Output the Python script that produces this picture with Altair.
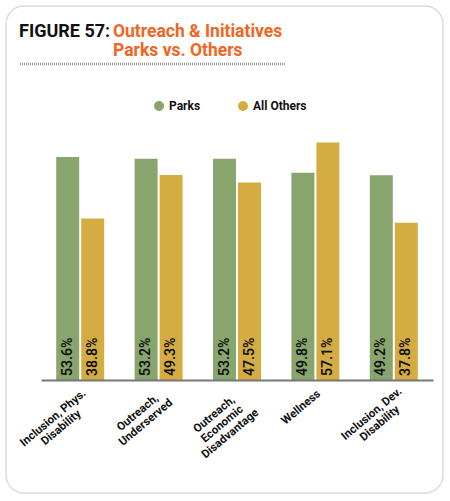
import altair as alt
import pandas as pd

# Program categories and shares in percent
categories = [
    "Inclusion, Phys. Disability",
    "Outreach, Underserved",
    "Outreach, Economic Disadvantage",
    "Wellness",
    "Inclusion, Dev. Disability",
]
# Wrapped tick labels for each category
tick_lines = [
    ["Inclusion, Phys.", "Disability"],
    ["Outreach,", "Underserved"],
    ["Outreach,", "Economic", "Disadvantage"],
    ["Wellness"],
    ["Inclusion, Dev.", "Disability"],
]
parks = [53.6, 53.2, 53.2, 49.8, 49.2]
all_others = [38.8, 49.3, 47.5, 57.1, 37.8]
groups = ["Parks", "All Others"]
colors = ["#87A56D", "#D4AC42"]

rows = []
for c, p, o in zip(categories, parks, all_others):
    rows.append({"category": c, "group": "Parks", "value": p})
    rows.append({"category": c, "group": "All Others", "value": o})
df = pd.DataFrame(rows)
df["label"] = df["value"].map(lambda v: f"{v:.1f}%")
cat_df = pd.DataFrame({"category": categories})

W, H = 392, 260
one = pd.DataFrame({"k": [0]})
TICK_FONT = 11.5
# approximate widths of the longest wrapped line, used to end each block at its tick
longest_px = [80, 64, 69, 47, 67]

# Rounded card behind everything
card = alt.Chart(one).mark_rect(
    cornerRadius=18, fill="white", stroke="#dcdcdc", strokeWidth=1.5
).encode(
    x=alt.value(-35), x2=alt.value(402), y=alt.value(-114), y2=alt.value(373)
)

title_black = alt.Chart(one).mark_text(
    text="FIGURE 57:", font="Roboto", fontWeight="bold", fontSize=18,
    color="#111111", align="left", baseline="alphabetic"
).encode(x=alt.value(-22), y=alt.value(-83))

title_orange = alt.Chart(one).mark_text(
    text=["Outreach & Initiatives", "Parks vs. Others"], lineHeight=19,
    font="Roboto", fontWeight="bold", fontSize=17.5,
    color="#F26522", align="left", baseline="alphabetic"
).encode(x=alt.value(72), y=alt.value(-83))

dotted = alt.Chart(one).mark_rule(
    color="#9a9a9a", strokeWidth=2.5, strokeDash=[1, 1]
).encode(x=alt.value(-21), x2=alt.value(244), y=alt.value(-56))

x_enc = alt.X(
    "category:N", sort=categories, title=None,
    scale=alt.Scale(paddingInner=0, paddingOuter=0),
    axis=alt.Axis(
        labels=False, ticks=False, domainColor="#777777", domainWidth=2,
        zindex=1,
    ),
)
xoff = alt.XOffset(
    "group:N", sort=groups,
    scale=alt.Scale(paddingInner=0.08, paddingOuter=0.608),
)
y_enc = alt.Y(
    "value:Q", title=None,
    scale=alt.Scale(domain=[0, 62.5], nice=False),
    axis=None,
)

bars = alt.Chart(df).mark_bar().encode(
    x=x_enc,
    xOffset=xoff,
    y=y_enc,
    color=alt.Color(
        "group:N", sort=groups, title=None,
        scale=alt.Scale(domain=groups, range=colors),
        legend=alt.Legend(
            orient="none", legendX=112, legendY=-20, direction="horizontal",
            symbolType="circle", symbolSize=100, symbolStrokeWidth=0,
            labelFont="Roboto", labelFontWeight="bold", labelFontSize=12,
            labelColor="#111111", columnPadding=36, symbolOffset=0,
            zindex=1,
        ),
    ),
)

labels = alt.Chart(df).mark_text(
    angle=270, align="left", baseline="middle", dx=4,
    font="Roboto", fontSize=14, fontWeight=600, color="#111111",
).encode(
    x=alt.X("category:N", sort=categories),
    xOffset=xoff,
    y=alt.datum(0),
    text="label:N",
)

# Rotated, centred multi-line category labels under each group
tick_layers = []
for cat, lines, w in zip(categories, tick_lines, longest_px):
    tick_layers.append(
        alt.Chart(cat_df)
        .transform_filter(alt.datum.category == cat)
        .mark_text(
            text=lines, angle=320, align="center", baseline="top",
            dx=-w / 2, lineHeight=12.5, font="Roboto", fontWeight="bold",
            fontSize=TICK_FONT, color="#111111",
        )
        .encode(x=alt.X("category:N", sort=categories), y=alt.value(H + 8))
    )

chart = alt.layer(
    card, title_black, title_orange, dotted, bars, labels, *tick_layers
).properties(
    width=W, height=H,
    autosize=alt.AutoSizeParams(type="none"),
    padding={"left": 41, "top": 120, "right": 17, "bottom": 121},
    background="white",
).configure_view(stroke=None)

chart.save("out.html", embed_options={"renderer": "svg", "actions": False})
